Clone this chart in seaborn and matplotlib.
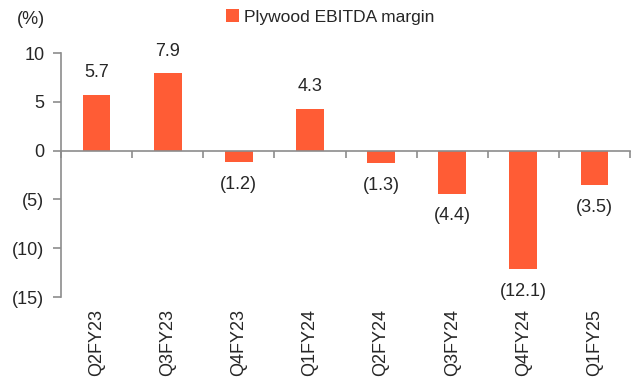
import matplotlib
matplotlib.use("Agg")
import matplotlib.pyplot as plt
import seaborn as sns
import pandas as pd
from matplotlib.patches import Patch
from matplotlib.ticker import FixedLocator

quarters = ["Q2FY23", "Q3FY23", "Q4FY23", "Q1FY24", "Q2FY24", "Q3FY24", "Q4FY24", "Q1FY25"]
margin = [5.7, 7.9, -1.2, 4.3, -1.3, -4.4, -12.1, -3.5]
yticks = [10, 5, 0, -5, -10, -15]
series_name = "Plywood EBITDA margin"

bar_color = "#FF5C35"
axis_color = "#8C8C8C"

sns.set_theme(style="white")
plt.rcParams["font.family"] = ["Liberation Sans", "DejaVu Sans"]

df = pd.DataFrame({"quarter": quarters, "margin": margin})

fig = plt.figure(figsize=(6.39, 3.79), dpi=100)
ax = fig.add_axes([61 / 639, 1 - 297 / 379, (630 - 61) / 639, (297 - 53) / 379])

sns.barplot(data=df, x="quarter", y="margin", color=bar_color, saturation=1,
            width=0.39, ax=ax)
for p in ax.patches:
    p.set_edgecolor("none")

ax.set_xlim(-0.5, len(quarters) - 0.5)
ax.set_ylim(-15, 10)
ax.set_yticks(yticks)
ax.set_yticklabels([f"({abs(v)})" if v < 0 else f"{v}" for v in yticks], fontsize=13)
ax.tick_params(axis="y", direction="out", length=6, width=1.2, color=axis_color,
               pad=6, left=True, labelsize=13)

# zero-line spine with boundary ticks
for s in ["top", "right"]:
    ax.spines[s].set_visible(False)
ax.spines["bottom"].set_position(("data", 0))
ax.spines["bottom"].set_color(axis_color)
ax.spines["bottom"].set_linewidth(1.2)
ax.spines["left"].set_color(axis_color)
ax.spines["left"].set_linewidth(1.2)
ax.xaxis.set_major_locator(FixedLocator([i - 0.5 for i in range(len(quarters) + 1)]))
ax.set_xticklabels([])
ax.tick_params(axis="x", direction="out", length=5, width=1.2, color=axis_color, bottom=True)
ax.set_xlabel("")
ax.set_ylabel("")

# category labels at the bottom of the plot area
sec = ax.secondary_xaxis(0)
sec.set_xticks(range(len(quarters)))
sec.set_xticklabels(quarters, rotation=90, fontsize=13)
sec.tick_params(length=0, pad=9)
sec.spines["bottom"].set_visible(False)

# value labels
for cont in ax.containers:
    labels = [f"({abs(v):.1f})" if v < 0 else f"{v:.1f}" for v in margin]
    ax.bar_label(cont, labels=labels, padding=10, fontsize=13)

# unit label
fig.text(17 / 639, 1 - 19 / 379, "(%)", fontsize=13, va="center", ha="left")

# legend
handle = Patch(facecolor=bar_color, edgecolor="none")
fig.legend([handle], [series_name], loc="center", bbox_to_anchor=(330 / 639, 1 - 17 / 379),
           frameon=False, fontsize=12.5, handlelength=0.75, handleheight=0.75,
           handletextpad=0.3, borderaxespad=0)

fig.savefig("out.png", dpi=100)
